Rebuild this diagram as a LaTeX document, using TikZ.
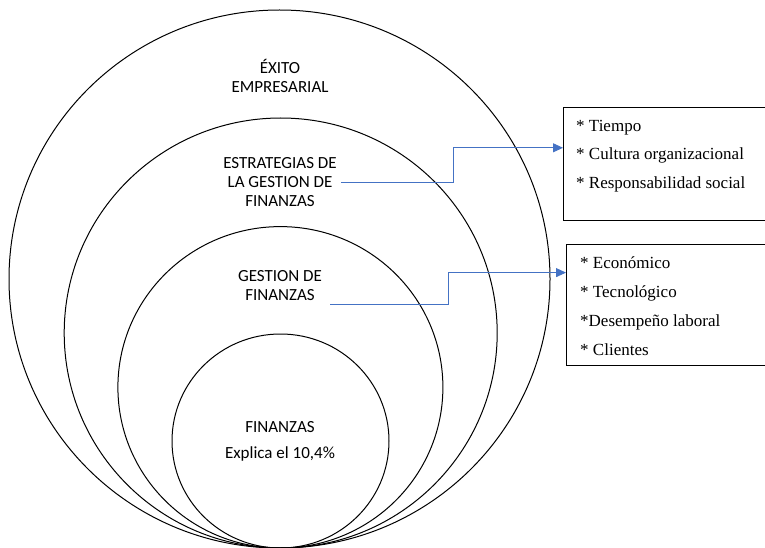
\documentclass[tikz,border=0pt]{standalone}
\usepackage{fontspec}
\setmainfont{Liberation Serif}
\newfontfamily\carlito{Carlito}
\usetikzlibrary{arrows.meta,positioning}
\definecolor{azul}{RGB}{68,114,196}

\tikzset{
  rotulo/.style={font=\carlito\fontsize{17}{19}\selectfont, align=center, inner sep=4pt},
  item/.style={font=\fontsize{17}{20}\selectfont, anchor=base west, inner sep=0pt},
  caja/.style={draw, line width=1.2pt, anchor=north west, inner sep=0pt},
  flecha/.style={azul, line width=0.9pt, -{Triangle[length=10pt,width=9pt]}}
}

\begin{document}
\begin{tikzpicture}[x=1pt,y=-1pt]
\useasboundingbox (0,0) rectangle (765,548);
\clip (0,0) rectangle (765,548);

%circulos
\draw [line width=1pt] (279.5,279) ellipse [x radius=270.5, y radius=269];
\draw [line width=1pt] (280.7,333) ellipse [x radius=216.5, y radius=215];
\draw [line width=1pt] (280.4,387.3) ellipse [x radius=162.5, y radius=160.7];
\draw [line width=1pt] (280.5,441) ellipse [x radius=108.5, y radius=107];
%fin

%textos
\node[rotulo] (exito) at (280,76) {ÉXITO\\EMPRESARIAL};
\node[rotulo] (estr) at (280,182.5) {ESTRATEGIAS DE\\LA GESTION DE\\FINANZAS};
\node[rotulo] (gest) at (280,286) {GESTION DE\\FINANZAS};
\node[rotulo] (fin) at (280,441) {FINANZAS\\[7pt]Explica el 10,4\%};
%fin

%cajas
\node[caja, minimum width=215pt, minimum height=113pt] (box1) at (563,107) {};
\node[item] (t1) at (576,131.5) {* Tiempo};
\node[item] (t2) at (576,160) {* Cultura organizacional};
\node[item] (t3) at (576,188.5) {* Responsabilidad social};

\node[caja, minimum width=212pt, minimum height=121pt] (box2) at (566,244) {};
\node[item] (f1) at (580,268) {* Económico};
\node[item] (f2) at (580,297) {* Tecnológico};
\node[item] (f3) at (580,326) {*Desempeño laboral};
\node[item] (f4) at (580,355) {* Clientes};
%fin

%flechas
\coordinate (codo1) at (453,147.8);
\coordinate (codo2) at (448,272.6);
\coordinate (g0) at ([shift={(4pt,-18pt)}]gest.east);
\draw[flecha] (estr.east) -| (codo1) -- (box1.west |- codo1);
\draw[flecha] (g0) -| (codo2) -- (box2.west |- codo2);
\end{tikzpicture}
\end{document}
